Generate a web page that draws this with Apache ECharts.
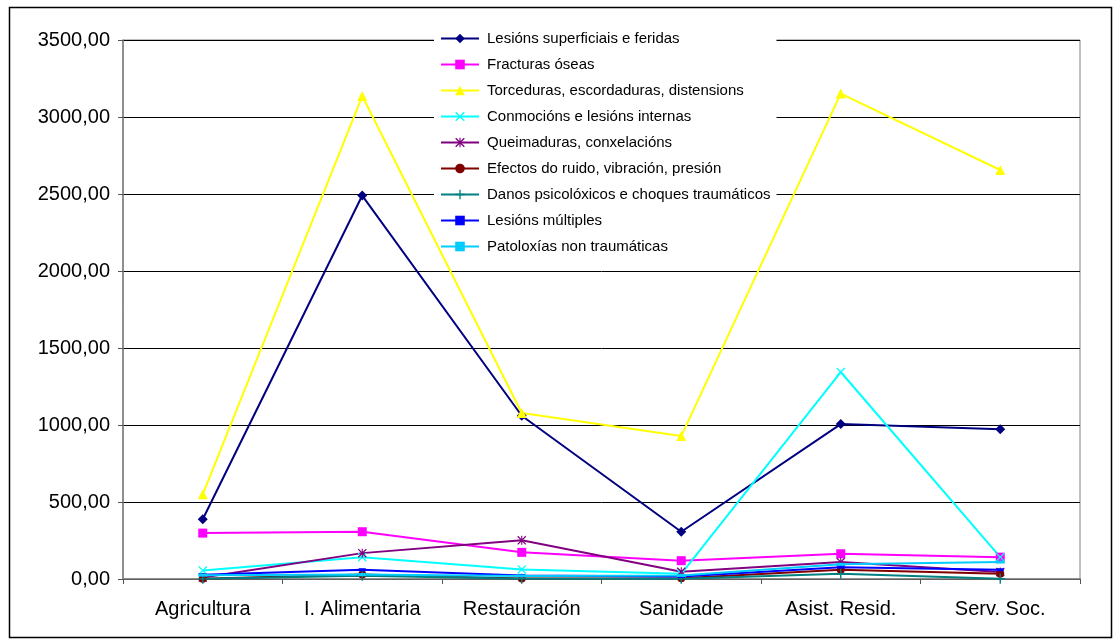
<!DOCTYPE html>
<html>
<head>
<meta charset="utf-8">
<script src="https://cdn.jsdelivr.net/npm/echarts@6/dist/echarts.min.js"></script>
<style>
html,body{margin:0;padding:0;background:#fff;}
#chart{width:1114px;height:641px;}
</style>
</head>
<body>
<div id="chart"></div>
<script>
const categories = ['Agricultura', 'I. Alimentaria', 'Restauración', 'Sanidade', 'Asist. Resid.', 'Serv. Soc.'];
const seriesNames = [
  'Lesións superficiais e feridas',
  'Fracturas óseas',
  'Torceduras, escordaduras, distensions',
  'Conmocións e lesións internas',
  'Queimaduras, conxelacións',
  'Efectos do ruido, vibración, presión',
  'Danos psicolóxicos e choques traumáticos',
  'Lesións múltiples',
  'Patoloxías non traumáticas'
];
const lesionsSuperficiais = [388, 2490, 1060, 307, 1006, 972];
const fracturas = [298, 307, 173, 119, 164, 142];
const torceduras = [550, 3136, 1078, 928, 3152, 2656];
const conmocions = [55, 142, 62, 34, 1344, 142];
const queimaduras = [10, 168, 251, 47, 110, 45];
const efectos = [2, 30, 3, 5, 60, 34];
const danos = [1, 21, 2, 2, 34, 2];
const multiples = [27, 60, 23, 16, 77, 60];
const patoloxias = [25, 29, 20, 23, 95, 110];
const yTicks = [0, 500, 1000, 1500, 2000, 2500, 3000, 3500];

const values = [lesionsSuperficiais, fracturas, torceduras, conmocions, queimaduras, efectos, danos, multiples, patoloxias];
const colors = ['#000080', '#FF00FF', '#FFFF00', '#00FFFF', '#800080', '#800000', '#008080', '#0000FF', '#00CCFF'];
const xPath = 'path://M0,1L1,0L5,4L9,0L10,1L6,5L10,9L9,10L5,6L1,10L0,9L4,5Z';
const starPath = 'path://M0,1L1,0L5,4L9,0L10,1L6,5L10,9L9,10L5,6L1,10L0,9L4,5Z M4.4,0H5.6V10H4.4Z';
const plusPath = 'path://M4.3,0H5.7V4.3H10V5.7H5.7V10H4.3V5.7H0V4.3H4.3Z';
const symbols = ['diamond', 'rect', 'triangle', xPath, starPath, 'circle', plusPath, 'rect', 'rect'];
const sizes = [10, 9, 10, 9, 9, 8, 10, [7, 3], [9, 3]];

const chart = echarts.init(document.getElementById('chart'));
const fmt = v => v.toFixed(2).replace('.', ',');
const FONT = 'Liberation Sans, Arial, sans-serif';

chart.setOption({
  animation: false,
  backgroundColor: '#fff',
  textStyle: {fontFamily: FONT},
  grid: {left: 123, right: 34, top: 40, bottom: 62, show: true, borderColor: '#808080', borderWidth: 1, backgroundColor: 'transparent'},
  graphic: [{
    type: 'rect', left: 7, top: 5, z: 100,
    shape: {x: 0, y: 0, width: 1102, height: 630},
    style: {fill: 'none', stroke: '#000', lineWidth: 1.5}
  }],
  legend: {
    orient: 'vertical', left: 434, top: 26,
    backgroundColor: '#fff', padding: [4, 6, 6, 6],
    itemWidth: 38, itemHeight: 12, itemGap: 9,
    textStyle: {fontSize: 15, color: '#000', lineHeight: 17, fontFamily: FONT, padding: [0, 0, 0, 3]},
    data: seriesNames
  },
  xAxis: {
    type: 'category', data: categories, boundaryGap: true,
    axisLine: {lineStyle: {color: '#808080', width: 1.5}},
    axisTick: {show: true, length: 5, lineStyle: {color: '#555'}},
    axisLabel: {fontSize: 20, color: '#000', margin: 20, fontFamily: FONT}
  },
  yAxis: {
    type: 'value', min: yTicks[0], max: yTicks[yTicks.length - 1], interval: 500,
    axisLine: {show: true, lineStyle: {color: '#808080', width: 1.5}},
    axisTick: {show: true, length: 5, lineStyle: {color: '#555'}},
    splitLine: {lineStyle: {color: '#000', width: 1}},
    axisLabel: {fontSize: 20, color: '#000', margin: 13, formatter: fmt, fontFamily: FONT}
  },
  series: seriesNames.map((name, i) => ({
    name: name, type: 'line', data: values[i], z: 5,
    symbol: symbols[i], symbolSize: sizes[i], showAllSymbol: true,
    lineStyle: {color: colors[i], width: 2},
    itemStyle: {color: colors[i]}
  }))
});
</script>
</body>
</html>
